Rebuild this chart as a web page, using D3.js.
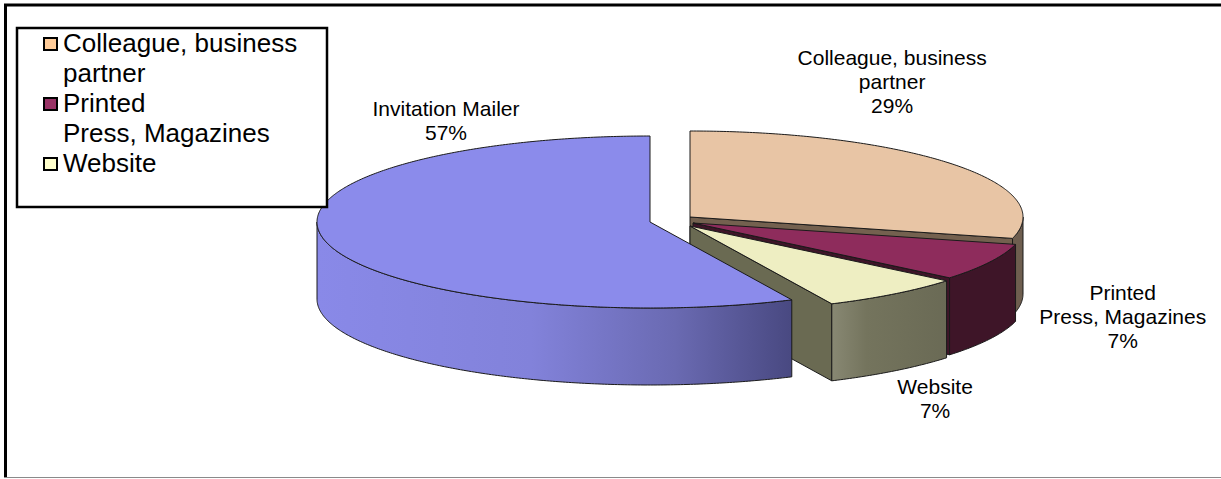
<!DOCTYPE html>
<html><head><meta charset="utf-8">
<script src="https://cdn.jsdelivr.net/npm/d3@7"></script>
<style>body{margin:0;background:#fff} svg{display:block}</style>
</head><body>
<svg id="c" width="1221" height="479"></svg>
<script>
// ---- data ----
const categories = ["Colleague, business partner", "Printed Press, Magazines", "Website", "Invitation Mailer"];
const values = [29, 7, 7, 57];
const labelLines = [["Colleague, business", "partner"], ["Printed", "Press, Magazines"], ["Website"], ["Invitation Mailer"]];
const legendLines = [["Colleague, business", "partner"], ["Printed", "Press, Magazines"], ["Website"]];

// ---- layout / style ----
const W = 1221, H = 479;
const center = {x: 690, y: 220};
const rx = 333, ry = 86, depth = 77;
const explode = [[0, -3], [3, 3], [0, 6], [-40, 2]];
const labelOffset = [[-61, -99], [133, 38], [41, 100], [121, -125]];
const topColors = ["#E8C5A5", "#8E2C5C", "#EEEEC2", "#8B8BEB"];
const wallColors = ["#6E5E4F", "#3E1528", "url(#gWeb)", "url(#gBlue)"];
const faceColors = ["#74614F", "#3E1528", "#6A6A52", "#4A4A80"];
const legendColors = ["#FFCC99", "#993366", "#FFFFCC", "#9999FF"];
const font = "'Liberation Sans', Arial, Helvetica, sans-serif";

const svg = d3.select("#c");
svg.append("rect").attr("width", W).attr("height", H).attr("fill", "#fff");

const defs = svg.append("defs");
function grad(id, x1, x2, stops) {
  const g = defs.append("linearGradient").attr("id", id)
    .attr("gradientUnits", "userSpaceOnUse")
    .attr("x1", x1).attr("x2", x2).attr("y1", 0).attr("y2", 0);
  stops.forEach(s => g.append("stop").attr("offset", s[0]).attr("stop-color", s[1]));
}
grad("gBlue", 317, 794, [[0, "#8989E8"], [0.45, "#8282DA"], [0.75, "#6A6AB2"], [1, "#484880"]]);
grad("gWeb", 832, 947, [[0, "#888873"], [0.3, "#74745D"], [1, "#6A6A55"]]);

// frame
svg.append("line").attr("x1", 4).attr("x2", W).attr("y1", 5).attr("y2", 5).attr("stroke", "#000").attr("stroke-width", 3);
svg.append("line").attr("x1", 5.5).attr("x2", 5.5).attr("y1", 4).attr("y2", 478).attr("stroke", "#000").attr("stroke-width", 3);
svg.append("line").attr("x1", 4).attr("x2", W).attr("y1", 477.5).attr("y2", 477.5).attr("stroke", "#8a8a8a").attr("stroke-width", 1);

// pie geometry
const pie = d3.pie().sort(null).value(d => d)(values);
const line = d3.line();
const xScale = d3.scaleLinear().domain([-1, 1]).range([-rx, rx]);
const yScale = d3.scaleLinear().domain([-1, 1]).range([ry, -ry]);
function pt(c, a, dy = 0) { return [c.x + xScale(Math.sin(a)), c.y + yScale(Math.cos(a)) + dy]; }
function arcPts(c, a0, a1, dy = 0) {
  const n = Math.max(2, Math.ceil((a1 - a0) / 0.01));
  return d3.range(n + 1).map(i => pt(c, a0 + (a1 - a0) * i / n, dy));
}

const g = svg.append("g").attr("stroke", "#1a1a1a").attr("stroke-width", 1).attr("stroke-linejoin", "round");
pie.forEach((d, i) => {
  const c = {x: center.x + explode[i][0], y: center.y + explode[i][1]};
  const a0 = d.startAngle, a1 = d.endAngle;
  // radial end face
  if (a1 > 0 && a1 < Math.PI) {
    const p = pt(c, a1);
    g.append("path").attr("d", line([[c.x, c.y], p, [p[0], p[1] + depth], [c.x, c.y + depth]]) + "Z")
      .attr("fill", faceColors[i]);
  }
  if (a0 > Math.PI && a0 < 2 * Math.PI) {
    const p = pt(c, a0);
    g.append("path").attr("d", line([[c.x, c.y], p, [p[0], p[1] + depth], [c.x, c.y + depth]]) + "Z")
      .attr("fill", faceColors[i]);
  }
  // outer wall
  const s = Math.max(a0, Math.PI / 2), e = Math.min(a1, 3 * Math.PI / 2);
  if (s < e) {
    const pts = arcPts(c, s, e).concat(arcPts(c, s, e, depth).reverse());
    g.append("path").attr("d", line(pts) + "Z").attr("fill", wallColors[i]);
  }
  // top face
  g.append("path").attr("d", line([[c.x, c.y]].concat(arcPts(c, a0, a1))) + "Z").attr("fill", topColors[i]);
});

// data labels
pie.forEach((d, i) => {
  const c = {x: center.x + explode[i][0], y: center.y + explode[i][1]};
  const mid = (d.startAngle + d.endAngle) / 2;
  const p = pt(c, mid);
  const lines = labelLines[i].concat([Math.round(d.value / d3.sum(values) * 100) + "%"]);
  const t = svg.append("text").attr("font-family", font).attr("font-size", 21).attr("fill", "#000")
    .attr("text-anchor", "middle");
  lines.forEach((l, j) => {
    t.append("tspan").attr("x", p[0] + labelOffset[i][0]).attr("y", p[1] + labelOffset[i][1] + j * 24).text(l);
  });
});

// legend
const lg = svg.append("g");
lg.append("rect").attr("x", 17).attr("y", 28).attr("width", 310).attr("height", 179)
  .attr("fill", "#fff").attr("stroke", "#000").attr("stroke-width", 2.5);
let row = 0;
legendLines.forEach((ls, i) => {
  const base = 52 + row * 30;
  lg.append("rect").attr("x", 44).attr("y", base - 14).attr("width", 13).attr("height", 12)
    .attr("fill", legendColors[i]).attr("stroke", "#000").attr("stroke-width", 2);
  const t = lg.append("text").attr("font-family", font).attr("font-size", 26).attr("fill", "#000");
  ls.forEach((l, j) => t.append("tspan").attr("x", 63).attr("y", base + j * 30).text(l));
  row += ls.length;
});
</script>
</body></html>
